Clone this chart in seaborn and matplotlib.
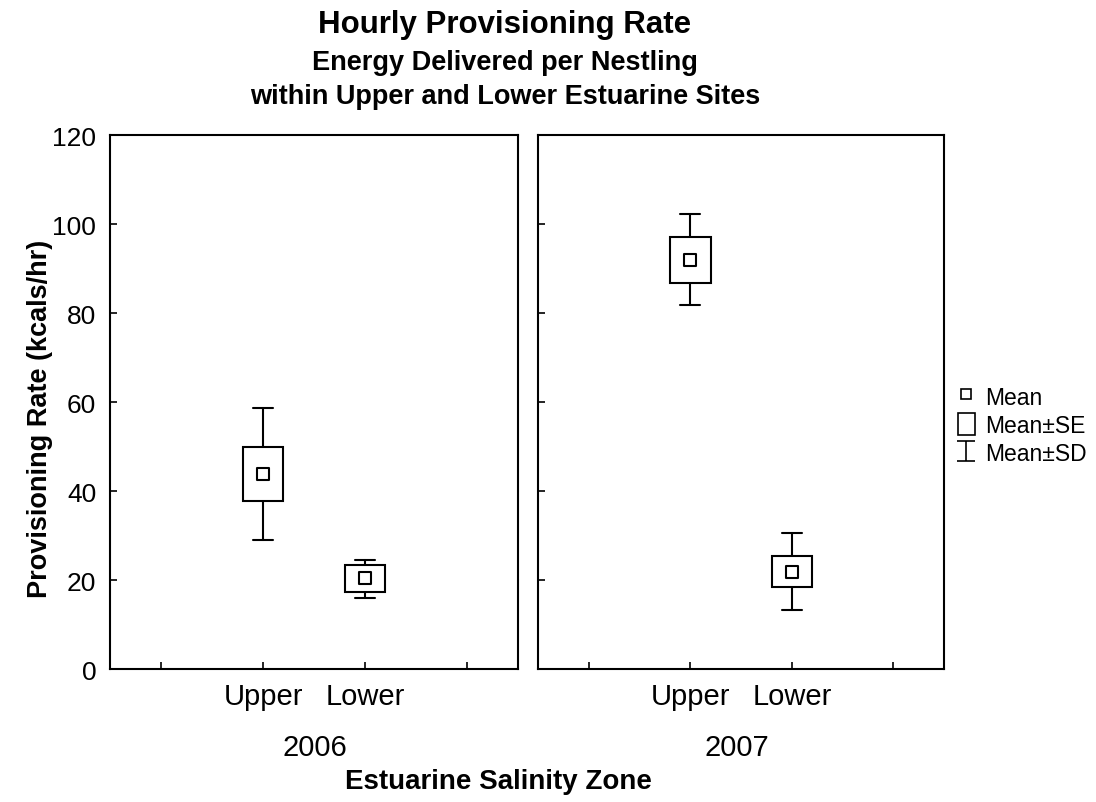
import matplotlib
matplotlib.use("Agg")
import matplotlib.pyplot as plt
from matplotlib.lines import Line2D
from matplotlib.patches import Rectangle
from matplotlib.path import Path
import seaborn as sns
import pandas as pd

# values (kcals/hr)
years = ["2006", "2007"]
zones = ["Upper", "Lower"]
mean_2006 = [43.8, 20.4]
se_lo_2006 = [37.7, 17.4]
se_hi_2006 = [49.8, 23.4]
sd_lo_2006 = [29.0, 16.0]
sd_hi_2006 = [58.6, 24.6]
mean_2007 = [92.0, 21.9]
se_lo_2007 = [86.7, 18.4]
se_hi_2007 = [97.1, 25.4]
sd_lo_2007 = [81.8, 13.3]
sd_hi_2007 = [102.2, 30.5]

sns.set_theme(style="ticks")
plt.rcParams['font.family'] = ['Liberation Sans', 'DejaVu Sans']
plt.rcParams['text.color'] = 'black'
plt.rcParams['axes.labelcolor'] = 'black'

fig = plt.figure(figsize=(10.96, 8.03), dpi=100)
ax1 = fig.add_axes([0.1004, 0.1656, 0.3723, 0.665])
ax2 = fig.add_axes([0.4909, 0.1656, 0.3705, 0.665])

panels = [
    (ax1, mean_2006, se_lo_2006, se_hi_2006, sd_lo_2006, sd_hi_2006),
    (ax2, mean_2007, se_lo_2007, se_hi_2007, sd_lo_2007, sd_hi_2007),
]
pos = [1, 2]
lw = 1.5

for ax, mean, se_lo, se_hi, sd_lo, sd_hi in panels:
    # SD whiskers
    for i, p in enumerate(pos):
        ax.plot([p, p], [sd_lo[i], se_lo[i]], color="black", lw=lw, zorder=1)
        ax.plot([p, p], [se_hi[i], sd_hi[i]], color="black", lw=lw, zorder=1)
        ax.plot([p - 0.1, p + 0.1], [sd_lo[i]] * 2, color="black", lw=lw)
        ax.plot([p - 0.1, p + 0.1], [sd_hi[i]] * 2, color="black", lw=lw)
    # SE boxes
    ax.bar(pos, [h - l for h, l in zip(se_hi, se_lo)], bottom=se_lo, width=0.4,
           facecolor="white", edgecolor="black", linewidth=lw, zorder=2)
    # mean markers
    df = pd.DataFrame({"pos": pos, "mean": mean})
    sns.scatterplot(data=df, x="pos", y="mean", marker="s", s=75,
                    facecolor="white", edgecolor="black", linewidth=lw,
                    ax=ax, zorder=3, legend=False)
    ax.set_xlim(-0.5, 3.5)
    ax.set_ylim(0, 120)
    ax.set_xticks([0, 1, 2, 3])
    ax.set_xticklabels(["", zones[0], zones[1], ""])
    ax.set_yticks(range(0, 121, 20))
    ax.tick_params(direction="in", length=5, width=1.2, colors="black")
    ax.tick_params(axis="x", labelsize=21, pad=9)
    ax.tick_params(axis="y", labelsize=19, pad=10)
    ax.set_xlabel("")
    ax.set_ylabel("")
    for s in ax.spines.values():
        s.set_visible(True)
        s.set_linewidth(lw)
        s.set_color("black")

ax2.set_yticklabels([])
ax1.set_ylabel("Provisioning Rate (kcals/hr)", fontsize=19.5, fontweight="bold")
ax1.yaxis.set_label_coords(-0.14, 0.47)

fig.text(315 / 1096, 1 - 748 / 803, years[0], ha="center", va="center", fontsize=21)
fig.text(737 / 1096, 1 - 748 / 803, years[1], ha="center", va="center", fontsize=21)
fig.text(498 / 1096, 1 - 782 / 803, "Estuarine Salinity Zone", ha="center", va="center",
         fontsize=20, fontweight="bold")

fig.text(505 / 1096, 1 - 25 / 803, "Hourly Provisioning Rate", ha="center", va="center",
         fontsize=22.5, fontweight="bold")
fig.text(505 / 1096, 1 - 63 / 803, "Energy Delivered per Nestling", ha="center", va="center",
         fontsize=19.5, fontweight="bold")
fig.text(505 / 1096, 1 - 97 / 803, "within Upper and Lower Estuarine Sites", ha="center",
         va="center", fontsize=19.5, fontweight="bold")

# I-beam marker for the SD entry
ibeam = Path([(-0.9, 1), (0.9, 1), (0, 1), (0, -1), (-0.9, -1), (0.9, -1)],
             [Path.MOVETO, Path.LINETO, Path.MOVETO, Path.LINETO, Path.MOVETO, Path.LINETO])
handles = [
    Line2D([], [], marker="s", ls="none", markersize=7, markerfacecolor="white",
           markeredgecolor="black", markeredgewidth=1.2),
    Rectangle((0, 0), 1, 1, facecolor="white", edgecolor="black", linewidth=1.2),
    Line2D([], [], marker=ibeam, ls="none", markersize=15, color="black",
           markeredgewidth=1.2, fillstyle="none"),
]
fig.legend(handles, ["Mean", "Mean\u00b1SE", "Mean\u00b1SD"], loc="center left",
           bbox_to_anchor=(0.874, 1 - 426 / 803), frameon=False, fontsize=16.5,
           handlelength=0.75, handleheight=1.05, handletextpad=0.45, labelspacing=0.2,
           borderpad=0, borderaxespad=0)

fig.savefig("out.png", dpi=100, facecolor="white")
